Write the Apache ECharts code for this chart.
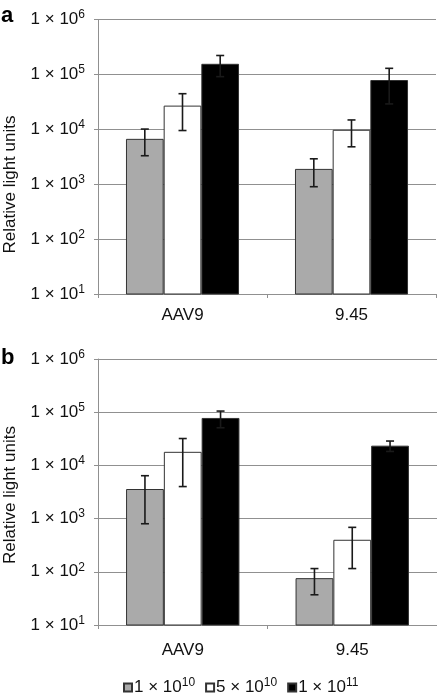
<!DOCTYPE html>
<html>
<head>
<meta charset="utf-8">
<script src="https://cdn.jsdelivr.net/npm/echarts@6/dist/echarts.min.js"></script>
<style>
html,body{margin:0;padding:0;background:#fff;}
#chart{width:437px;height:697px;}
</style>
</head>
<body>
<div id="chart"></div>
<script>
// ---- data ----
var categories = ['AAV9', '9.45'];
var seriesNames = ['1 × 10^10', '5 × 10^10', '1 × 10^11'];
var seriesColors = ['#aaaaaa', '#ffffff', '#000000'];
var yTickExponents = [1, 2, 3, 4, 5, 6];

// panel a
var aLow  = [6700, 1900];     // 1 x 10^10
var aMid  = [27000, 9800];    // 5 x 10^10
var aHigh = [156000, 79000];  // 1 x 10^11
var aLowSd  = [3400, 1000];
var aMidSd  = [17500, 5000];
var aHighSd = [65000, 50000];

// panel b
var bLow  = [3600, 76];
var bMid  = [18000, 400];
var bHigh = [78000, 23500];
var bLowSd  = [2800, 39];
var bMidSd  = [14000, 285];
var bHighSd = [27000, 5200];

var panelLabels = ['a', 'b'];
var yTitle = 'Relative light units';

// ---- chart ----
var FONT = '"Liberation Sans", Arial, Helvetica, sans-serif';
var BARW = 0.223;
var chart = echarts.init(document.getElementById('chart'), null, {renderer: 'canvas'});

var panels = [
  {vals: [aLow, aMid, aHigh], sds: [aLowSd, aMidSd, aHighSd]},
  {vals: [bLow, bMid, bHigh], sds: [bLowSd, bMidSd, bHighSd]}
];

var grids = [
  {left: 98, top: 19.5, width: 338, height: 274.5},
  {left: 98, top: 359, width: 350, height: 266}
];

var richY = {
  m: {fontSize: 17, fontFamily: FONT, color: '#111', lineHeight: 21},
  s: {fontSize: 12, fontFamily: FONT, color: '#111', lineHeight: 13, verticalAlign: 'top'}
};

function expOf(v) { return Math.round(Math.log(v) / Math.LN10); }

var xAxes = [], yAxes = [], series = [];
[0, 1].forEach(function (p) {
  xAxes.push({
    type: 'category', gridIndex: p, data: categories,
    axisLine: {show: true, lineStyle: {color: '#909090', width: 1}},
    axisTick: {show: true, length: 4, lineStyle: {color: '#909090'}},
    axisLabel: {color: '#111', fontSize: 17, fontFamily: FONT, margin: p === 0 ? 13 : 17}
  });
  yAxes.push({
    type: 'log', logBase: 10, gridIndex: p, min: 10, max: 1e6,
    axisLine: {show: true, lineStyle: {color: '#909090', width: 1}},
    axisTick: {show: true, length: 4, lineStyle: {color: '#909090'}},
    splitLine: {show: true, lineStyle: {color: '#909090', width: 1}},
    minorTick: {show: false}, minorSplitLine: {show: false},
    axisLabel: {
      margin: 13,
      formatter: function (v) {
        var e = expOf(v);
        if (yTickExponents.indexOf(e) < 0) return '';
        return '{m|1 × 10}{s|' + e + '}';
      },
      rich: richY
    }
  });
  var pd = panels[p];
  for (var s = 0; s < 3; s++) {
    series.push({
      name: seriesNames[s], type: 'bar', xAxisIndex: p, yAxisIndex: p,
      barWidth: (BARW * 100) + '%', barGap: '0%',
      itemStyle: {color: seriesColors[s], borderColor: '#333', borderWidth: 1},
      data: pd.vals[s]
    });
  }
  for (var s2 = 0; s2 < 3; s2++) {
    (function (si) {
      series.push({
        type: 'custom', xAxisIndex: p, yAxisIndex: p, z: 10,
        silent: true,
        data: pd.vals[si].map(function (v, i) { return [i, v - pd.sds[si][i], v + pd.sds[si][i]]; }),
        renderItem: function (params, api) {
          var i = api.value(0);
          var lo = api.coord([i, api.value(1)]);
          var hi = api.coord([i, api.value(2)]);
          var band = api.size([1, 1])[0];
          var x = lo[0] + (si - 1) * band * BARW;
          var cap = 4;
          var st = {stroke: '#1a1a1a', lineWidth: 1.6};
          return {
            type: 'group',
            children: [
              {type: 'line', shape: {x1: x, y1: lo[1], x2: x, y2: hi[1]}, style: st},
              {type: 'line', shape: {x1: x - cap, y1: lo[1], x2: x + cap, y2: lo[1]}, style: st},
              {type: 'line', shape: {x1: x - cap, y1: hi[1], x2: x + cap, y2: hi[1]}, style: st}
            ]
          };
        }
      });
    })(s2);
  }
});

var option = {
  animation: false,
  backgroundColor: '#fff',
  textStyle: {fontFamily: FONT},
  grid: grids,
  xAxis: xAxes,
  yAxis: yAxes,
  legend: {
    data: seriesNames,
    left: 118, top: 672,
    itemWidth: 8, itemHeight: 8, itemGap: 10,
    icon: 'rect',
    formatter: function (name) {
      var parts = name.split('^');
      return '{m|' + parts[0] + '}{s|' + parts[1] + '}';
    },
    textStyle: {rich: richY, padding: [0, 0, 0, -3]}
  },
  graphic: [
    {type: 'text', left: 1, top: 5, style: {text: panelLabels[0], font: 'bold 22px ' + FONT, fill: '#000'}},
    {type: 'text', left: 1, top: 347, style: {text: panelLabels[1], font: 'bold 22px ' + FONT, fill: '#000'}},
    {type: 'text', x: 10, y: 184.5, rotation: Math.PI / 2,
      style: {text: yTitle, font: '17px ' + FONT, fill: '#111', align: 'center', verticalAlign: 'middle'}},
    {type: 'text', x: 10, y: 495, rotation: Math.PI / 2,
      style: {text: yTitle, font: '17px ' + FONT, fill: '#111', align: 'center', verticalAlign: 'middle'}}
  ],
  series: series
};
chart.setOption(option);
</script>
</body>
</html>
